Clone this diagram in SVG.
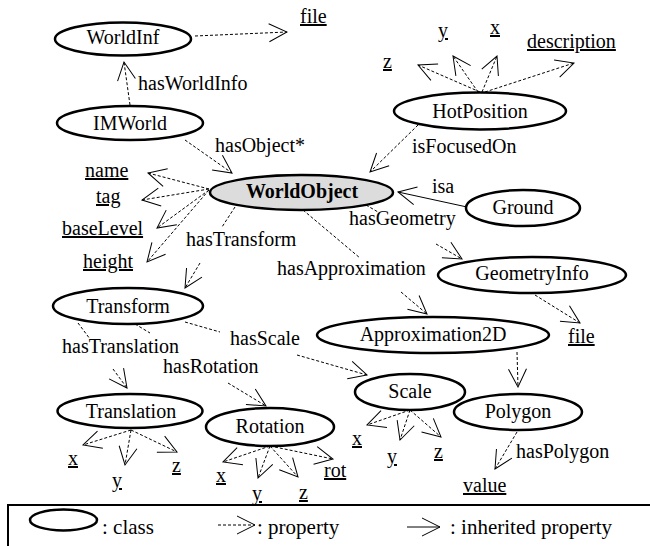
<svg xmlns="http://www.w3.org/2000/svg" width="650" height="546" viewBox="0 0 650 546" font-family="'Liberation Serif', 'DejaVu Serif', serif">
<style>
text{font-family:'Liberation Serif','DejaVu Serif',serif;font-size:20px;fill:#000}
.node ellipse{fill:#fff;stroke:#000;stroke-width:2.5}
.node text{text-anchor:middle}
.lit{text-decoration:underline}
.prop{fill:none;stroke:#000;stroke-width:1;stroke-dasharray:3 2;marker-end:url(#ah)}
.inh{fill:none;stroke:#000;stroke-width:1;marker-end:url(#ah)}
.leg{font-size:21px}
</style>
<defs>
<marker id="ah" viewBox="0 0 20 20" refX="19" refY="10" markerWidth="20" markerHeight="20" markerUnits="userSpaceOnUse" orient="auto">
<path d="M1,1 L19,10 L1,19" fill="none" stroke="#000" stroke-width="1"/>
</marker>
</defs>
<rect width="650" height="546" fill="#fff"/>

<g id="connectors">
<path class="prop" d="M195,36 L287,32"/>
<path class="prop" d="M130,105 L124,62"/>
<path class="prop" d="M185,140 L232,173"/>
<path class="prop" d="M418,125 L370,172"/>
<path class="prop" d="M480,92 L418,65"/>
<path class="prop" d="M478,92 L453,56"/>
<path class="prop" d="M482,92 L497,56"/>
<path class="prop" d="M485,92 L574,63"/>
<path class="prop" d="M209,189 L148,173"/>
<path class="prop" d="M209,189 L142,200"/>
<path class="prop" d="M209,190 L157,228"/>
<path class="prop" d="M209,190 L147,262"/>
<path class="inh" d="M467,207 L398,192"/>
<path class="prop" d="M235,207 L222,227 M200,263 L185,288"/>
<path class="prop" d="M366,205 L378,212 M436,244 L462,259"/>
<path class="prop" d="M303,210 L360,258 M401,292 L427,314"/>
<path class="prop" d="M535,295 L580,323"/>
<path class="prop" d="M78,323 L90,339 M113,369 L127,388"/>
<path class="prop" d="M135,324 L150,333 M228,383 L266,406"/>
<path class="prop" d="M185,322 L220,332 M297,355 L367,375"/>
<path class="prop" d="M517,352 L518,387"/>
<path class="prop" d="M517,432 L495,469"/>
<path class="prop" d="M131,430 L83,445"/>
<path class="prop" d="M131,430 L125,465"/>
<path class="prop" d="M131,430 L177,452"/>
<path class="prop" d="M270,446 L223,462"/>
<path class="prop" d="M270,446 L258,478"/>
<path class="prop" d="M270,446 L298,477"/>
<path class="prop" d="M270,446 L333,459"/>
<path class="prop" d="M410,410 L367,425"/>
<path class="prop" d="M410,410 L400,440"/>
<path class="prop" d="M410,410 L441,437"/>
<text x="138" y="90">hasWorldInfo</text>
<text x="215" y="152">hasObject*</text>
<text x="412" y="153">isFocusedOn</text>
<text x="432" y="193">isa</text>
<text x="349" y="225">hasGeometry</text>
<text x="186" y="246">hasTransform</text>
<text x="277" y="275">hasApproximation</text>
<text x="230" y="345">hasScale</text>
<text x="62" y="353">hasTranslation</text>
<text x="163" y="373">hasRotation</text>
<text x="516" y="458">hasPolygon</text>
</g>

<g id="literals">
<text class="lit" x="300" y="23">file</text>
<text class="lit" x="383" y="68">z</text>
<text class="lit" x="438" y="37">y</text>
<text class="lit" x="490" y="34">x</text>
<text class="lit" x="527" y="48">description</text>
<text class="lit" x="85" y="177">name</text>
<text class="lit" x="96" y="203">tag</text>
<text class="lit" x="62" y="235">baseLevel</text>
<text class="lit" x="83" y="268">height</text>
<text class="lit" x="568" y="343">file</text>
<text class="lit" x="68" y="465">x</text>
<text class="lit" x="112" y="487">y</text>
<text class="lit" x="172" y="472">z</text>
<text class="lit" x="216" y="482">x</text>
<text class="lit" x="252" y="500">y</text>
<text class="lit" x="299" y="499">z</text>
<text class="lit" x="324" y="477">rot</text>
<text class="lit" x="352" y="445">x</text>
<text class="lit" x="387" y="463">y</text>
<text class="lit" x="434" y="458">z</text>
<text class="lit" x="463" y="492">value</text>
</g>

<g id="WorldInf" class="node"><ellipse cx="123" cy="39" rx="68" ry="16.5"/><text x="123" y="44">WorldInf</text></g>
<g id="IMWorld" class="node"><ellipse cx="130" cy="123" rx="73" ry="17"/><text x="130" y="130">IMWorld</text></g>
<g id="HotPosition" class="node"><ellipse cx="480" cy="111" rx="86" ry="18.5"/><text x="480" y="118">HotPosition</text></g>
<g id="WorldObject" class="node"><ellipse cx="301.5" cy="192.5" rx="91.5" ry="17.5" style="fill:#dcdcdc"/><text x="302" y="198" font-weight="bold">WorldObject</text></g>
<g id="Ground" class="node"><ellipse cx="523" cy="208" rx="57" ry="18"/><text x="523" y="214">Ground</text></g>
<g id="GeometryInfo" class="node"><ellipse cx="532" cy="275" rx="94" ry="18"/><text x="532" y="280">GeometryInfo</text></g>
<g id="Transform" class="node"><ellipse cx="128" cy="306" rx="75" ry="18"/><text x="128" y="313">Transform</text></g>
<g id="Approximation2D" class="node"><ellipse cx="433" cy="335" rx="116" ry="18"/><text x="433" y="341">Approximation2D</text></g>
<g id="Scale" class="node"><ellipse cx="410" cy="392" rx="55" ry="18"/><text x="410" y="398">Scale</text></g>
<g id="Polygon" class="node"><ellipse cx="518" cy="412" rx="64" ry="18"/><text x="518" y="418">Polygon</text></g>
<g id="Translation" class="node"><ellipse cx="130" cy="411" rx="72.5" ry="17"/><text x="131" y="418">Translation</text></g>
<g id="Rotation" class="node"><ellipse cx="270" cy="427" rx="64" ry="19"/><text x="270" y="433">Rotation</text></g>

<g id="legend">
<rect x="8" y="505" width="660" height="60" fill="none" stroke="#000" stroke-width="2"/>
<ellipse cx="63.5" cy="520" rx="33.5" ry="10.5" fill="none" stroke="#000" stroke-width="2.5"/>
<text class="leg" x="102" y="534">: class</text>
<path class="prop" d="M218,525 L255,525"/>
<text class="leg" x="257" y="534">: property</text>
<path class="inh" d="M407,527 L440,527"/>
<text class="leg" x="450" y="534">: inherited property</text>
</g>
</svg>
